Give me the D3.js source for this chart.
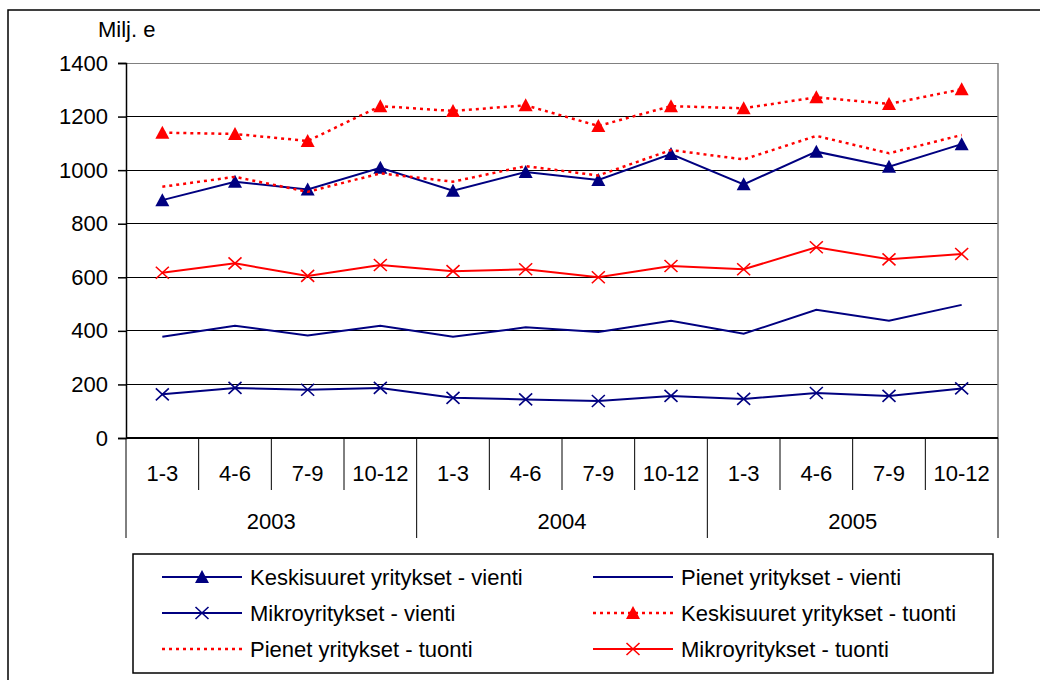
<!DOCTYPE html>
<html>
<head>
<meta charset="UTF-8">
<script src="https://d3js.org/d3.v7.min.js"></script>
<style>
  body { margin: 0; background: #fff; }
  text { font-family: "Liberation Sans", Arial, sans-serif; fill: #000; }
</style>
</head>
<body>
<div id="chart"></div>
<script>
// data
var quarters = ["1-3", "4-6", "7-9", "10-12"];
var years = ["2003", "2004", "2005"];
var yTicks = [0, 200, 400, 600, 800, 1000, 1200, 1400];

var keskiVienti   = [888, 957, 928, 1009, 923, 993, 963, 1060, 947, 1069, 1013, 1097];
var pienetVienti  = [378, 419, 383, 419, 378, 413, 396, 438, 389, 479, 438, 497];
var mikroVienti   = [163, 187, 180, 187, 150, 144, 138, 157, 146, 168, 157, 185];
var keskiTuonti   = [1140, 1135, 1109, 1239, 1221, 1242, 1165, 1239, 1231, 1272, 1247, 1302];
var pienetTuonti  = [938, 975, 919, 988, 957, 1015, 980, 1075, 1040, 1128, 1063, 1131];
var mikroTuonti   = [617, 652, 605, 646, 623, 630, 600, 642, 630, 712, 667, 687];

var series = [
  {name: "Keskisuuret yritykset - vienti", values: keskiVienti, color: "#000080", dash: null, marker: "tri"},
  {name: "Pienet yritykset - vienti", values: pienetVienti, color: "#000080", dash: null, marker: null},
  {name: "Mikroyritykset - vienti", values: mikroVienti, color: "#000080", dash: null, marker: "x"},
  {name: "Keskisuuret yritykset - tuonti", values: keskiTuonti, color: "#ff0000", dash: "3,4", marker: "tri"},
  {name: "Pienet yritykset - tuonti", values: pienetTuonti, color: "#ff0000", dash: "3,4", marker: null},
  {name: "Mikroyritykset - tuonti", values: mikroTuonti, color: "#ff0000", dash: null, marker: "x"}
];

var width = 1040, height = 680;
var plotL = 126, plotR = 998, plotT = 63, plotB = 438;

var svg = d3.select("#chart").append("svg")
  .attr("width", width)
  .attr("height", height);

// outer frame
svg.append("rect")
  .attr("x", 8).attr("y", 10)
  .attr("width", 1100).attr("height", 800)
  .attr("fill", "none").attr("stroke", "#000").attr("stroke-width", 1.5);

var cats = d3.range(12);
var x = d3.scaleBand().domain(cats).range([plotL, plotR]).padding(0);
var y = d3.scaleLinear().domain([0, 1400]).range([plotB, plotT]);

// gridlines
svg.append("g").selectAll("line")
  .data(yTicks.filter(function(d) { return d > 0; }))
  .enter().append("line")
  .attr("x1", plotL).attr("x2", plotR)
  .attr("y1", function(d) { return y(d); })
  .attr("y2", function(d) { return y(d); })
  .attr("stroke", function(d) { return d == 1400 ? "#808080" : "#000"; })
  .attr("stroke-width", 1)
  .attr("shape-rendering", "crispEdges");

// right border of plot
svg.append("line")
  .attr("x1", plotR).attr("x2", plotR).attr("y1", plotT).attr("y2", plotB)
  .attr("stroke", "#808080").attr("stroke-width", 1.5);

// y axis
var yAxis = svg.append("g")
  .attr("transform", "translate(" + plotL + ",0)")
  .call(d3.axisLeft(y).tickValues(yTicks).tickSize(8).tickPadding(10).tickFormat(d3.format("d")));
yAxis.select(".domain").attr("stroke", "#000").attr("stroke-width", 1.5);
yAxis.selectAll(".tick line").attr("stroke", "#000").attr("stroke-width", 1.5);
yAxis.selectAll("text").attr("font-size", "22px").attr("font-family", "Liberation Sans, Arial, sans-serif");

svg.append("text")
  .attr("x", 98).attr("y", 37)
  .attr("font-size", "22px")
  .text("Milj. e");

// x axis: category boundaries
var xg = svg.append("g");
xg.append("line")
  .attr("x1", plotL).attr("x2", plotR).attr("y1", plotB).attr("y2", plotB)
  .attr("stroke", "#000").attr("stroke-width", 2);

var bounds = d3.range(13);
xg.selectAll(".sep")
  .data(bounds)
  .enter().append("line")
  .attr("class", "sep")
  .attr("x1", function(i) { return i < 12 ? x(i) : plotR; })
  .attr("x2", function(i) { return i < 12 ? x(i) : plotR; })
  .attr("y1", plotB)
  .attr("y2", function(i) { return i % 4 == 0 ? 538 : 490; })
  .attr("stroke", "#000").attr("stroke-width", 1);

xg.selectAll(".qlab")
  .data(cats)
  .enter().append("text")
  .attr("class", "qlab")
  .attr("x", function(i) { return x(i) + x.bandwidth() / 2; })
  .attr("y", 481)
  .attr("text-anchor", "middle")
  .attr("font-size", "22px")
  .text(function(i) { return quarters[i % 4]; });

xg.selectAll(".ylab")
  .data(years)
  .enter().append("text")
  .attr("class", "ylab")
  .attr("x", function(d, j) { return x(j * 4) + x.bandwidth() * 2; })
  .attr("y", 529)
  .attr("text-anchor", "middle")
  .attr("font-size", "22px")
  .text(function(d) { return d; });

// markers
function drawMarker(g, type, cx, cy, color) {
  if (type == "tri") {
    g.append("path")
      .attr("d", "M" + cx + "," + (cy - 7) + "L" + (cx + 7) + "," + (cy + 6) + "L" + (cx - 7) + "," + (cy + 6) + "Z")
      .attr("fill", color);
  } else if (type == "x") {
    g.append("path")
      .attr("d", "M" + (cx - 6.5) + "," + (cy - 6) + "L" + (cx + 6.5) + "," + (cy + 6) +
                 "M" + (cx + 6.5) + "," + (cy - 6) + "L" + (cx - 6.5) + "," + (cy + 6))
      .attr("stroke", color).attr("stroke-width", 1.6).attr("fill", "none");
  }
}

var line = d3.line()
  .x(function(d, i) { return x(i) + x.bandwidth() / 2; })
  .y(function(d) { return y(d); });

series.forEach(function(s) {
  var g = svg.append("g");
  g.append("path")
    .attr("d", line(s.values))
    .attr("fill", "none")
    .attr("stroke", s.color)
    .attr("stroke-width", s.dash ? 2.5 : 2)
    .attr("stroke-dasharray", s.dash);
  if (s.marker) {
    s.values.forEach(function(v, i) {
      drawMarker(g, s.marker, x(i) + x.bandwidth() / 2, y(v), s.color);
    });
  }
});

// legend
var legend = svg.append("g");
legend.append("rect")
  .attr("x", 133).attr("y", 554)
  .attr("width", 860).attr("height", 119)
  .attr("fill", "#fff").attr("stroke", "#000").attr("stroke-width", 1.5);

var colX = [162, 593];
var rowY = [577, 613, 649];
series.forEach(function(s, k) {
  var lx = colX[k % 2], ly = rowY[Math.floor(k / 2)];
  var g = legend.append("g");
  g.append("line")
    .attr("x1", lx).attr("x2", lx + 80).attr("y1", ly).attr("y2", ly)
    .attr("stroke", s.color)
    .attr("stroke-width", s.dash ? 2.5 : 2)
    .attr("stroke-dasharray", s.dash);
  if (s.marker) drawMarker(g, s.marker, lx + 40, ly, s.color);
  g.append("text")
    .attr("x", lx + 88).attr("y", ly + 8)
    .attr("font-size", "22px")
    .text(s.name);
});
</script>
</body>
</html>
